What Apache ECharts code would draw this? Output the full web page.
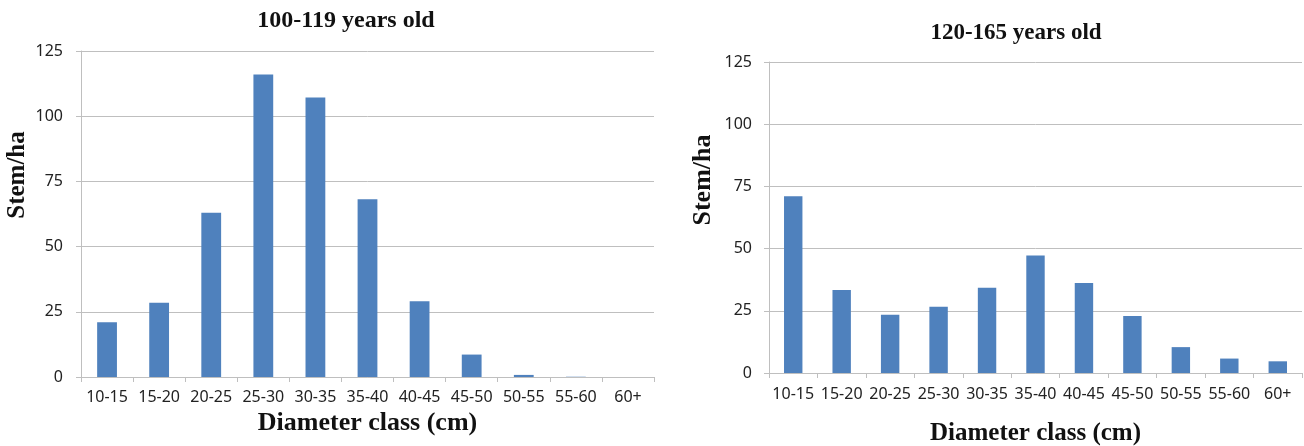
<!DOCTYPE html>
<html>
<head>
<meta charset="utf-8">
<script src="https://cdn.jsdelivr.net/npm/echarts@6/dist/echarts.min.js"></script>
<style>
html,body{margin:0;padding:0;background:#fff;}
#chart{width:1304px;height:446px;}
</style>
</head>
<body>
<div id="chart"></div>
<script>
const categories = ['10-15','15-20','20-25','25-30','30-35','35-40','40-45','45-50','50-55','55-60','60+'];
const stems100to119 = [21, 28.5, 63, 116, 107.2, 68.2, 29, 8.6, 0.8, 0.1, 0];
const stems120to165 = [71, 33.4, 23.4, 26.6, 34.3, 47.2, 36.2, 22.9, 10.4, 5.8, 4.7];
const titleLeft = '100-119 years old';
const titleRight = '120-165 years old';
const yName = 'Stem/ha';
const xName = 'Diameter class (cm)';
const yTicks = [0, 25, 50, 75, 100, 125];

const serif = '"Liberation Serif", "DejaVu Serif", serif';
const sans = '"Noto Sans", "Open Sans", sans-serif';
const barColor = '#4F81BD';
const gridColor = '#BFBFBF';

function xAxis(gridIndex, margin, nameGap, nameSize) {
  return {
    type: 'category', gridIndex, data: categories,
    axisLine: {lineStyle: {color: gridColor, width: 1}},
    axisTick: {show: true, length: 5, lineStyle: {color: gridColor}},
    axisLabel: {color: '#222', fontFamily: sans, fontSize: 16, margin, interval: 0},
    name: xName, nameLocation: 'middle', nameGap,
    nameTextStyle: {fontFamily: serif, fontWeight: 'bold', fontSize: nameSize, color: '#111'}
  };
}
function yAxis(gridIndex, margin) {
  return {
    type: 'value', gridIndex, min: yTicks[0], max: yTicks[yTicks.length-1], interval: 25,
    axisLine: {show: true, lineStyle: {color: gridColor, width: 1}},
    axisTick: {show: true, length: 5, lineStyle: {color: gridColor}},
    splitLine: {show: true, lineStyle: {color: gridColor, width: 1}},
    axisLabel: {color: '#222', fontFamily: sans, fontSize: 16, margin}
  };
}

const chart = echarts.init(document.getElementById('chart'), null, {renderer: 'canvas'});
chart.setOption({
  animation: false,
  backgroundColor: '#fff',
  graphic: [
    {type: 'text', x: 346, y: 21, style: {text: titleLeft, font: 'bold 24px ' + serif, fill: '#111', textAlign: 'center', textVerticalAlign: 'middle'}},
    {type: 'text', x: 1016, y: 33, style: {text: titleRight, font: 'bold 23px ' + serif, fill: '#111', textAlign: 'center', textVerticalAlign: 'middle'}},
    {type: 'text', x: 18, y: 175, rotation: Math.PI / 2, style: {text: yName, font: 'bold 25px ' + serif, fill: '#111', textAlign: 'center', textVerticalAlign: 'middle'}},
    {type: 'text', x: 703, y: 180, rotation: Math.PI / 2, style: {text: yName, font: 'bold 26px ' + serif, fill: '#111', textAlign: 'center', textVerticalAlign: 'middle'}}
  ],
  grid: [
    {left: 81, top: 51, width: 573, height: 326, outerBoundsMode: 'none', containLabel: false},
    {left: 769, top: 62, width: 533, height: 311, outerBoundsMode: 'none', containLabel: false}
  ],
  xAxis: [xAxis(0, 12, 32, 26), xAxis(1, 13, 48, 25)],
  yAxis: [yAxis(0, 18), yAxis(1, 17)],
  series: [
    {type: 'bar', xAxisIndex: 0, yAxisIndex: 0, data: stems100to119, barCategoryGap: '62%', itemStyle: {color: barColor}},
    {type: 'bar', xAxisIndex: 1, yAxisIndex: 1, data: stems120to165, barCategoryGap: '62%', itemStyle: {color: barColor}}
  ]
});
</script>
</body>
</html>
